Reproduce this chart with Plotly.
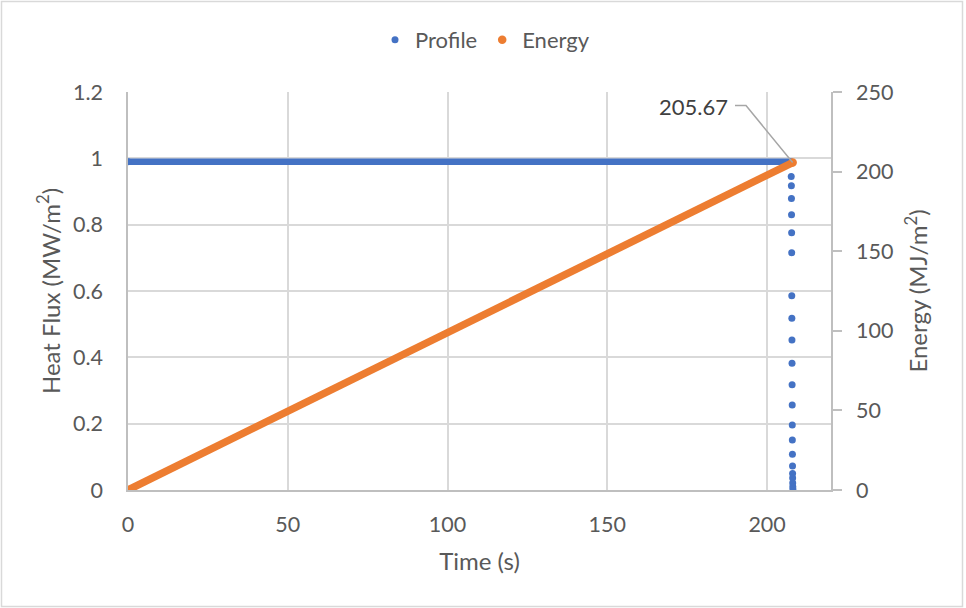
import plotly.graph_objects as go

# ---- data ----
profile_time = [0, 207.5, 207.55, 207.6, 207.62, 207.65, 207.68, 207.7, 207.72, 207.75,
                207.78, 207.8, 207.83, 207.86, 207.88, 207.9, 207.93, 207.96, 207.98,
                208.0, 208.02, 208.05, 208.08]
profile_flux = [0.99, 0.99, 0.945, 0.917, 0.879, 0.830, 0.776, 0.715, 0.586, 0.518,
                0.452, 0.382, 0.317, 0.256, 0.196, 0.151, 0.108, 0.072, 0.050,
                0.036, 0.021, 0.010, 0.003]
energy_time = [0, 208.0]
energy_value = [0, 205.67]
x_ticks = [0, 50, 100, 150, 200]
y1_ticks = [0, 0.2, 0.4, 0.6, 0.8, 1, 1.2]
y2_ticks = [0, 50, 100, 150, 200, 250]

BLUE = "#4472C4"
ORANGE = "#ED7D31"
TXT = "#595959"
GRID = "#D9D9D9"
AX = "#BFBFBF"
FONT = "Lato, 'Open Sans', sans-serif"

W, H = 966, 608
ML, MR, MT, MB = 128, 135, 92, 118
PW, PH = W - ML - MR, H - MT - MB
X_MAX, Y2_MAX = 220, 250


def px_to_x(px):
    return (px - ML) / PW * X_MAX


def py_to_y2(py):
    return (H - MB - py) / PH * Y2_MAX


fig = go.Figure()

# Profile plateau (dense dots drawn as a thick line)
fig.add_trace(go.Scatter(x=profile_time[:2], y=profile_flux[:2], mode="lines",
                         line=dict(color=BLUE, width=6.5), showlegend=False,
                         hoverinfo="skip", legendgroup="p"))
fig.add_trace(go.Scatter(x=profile_time, y=profile_flux, mode="markers", name="Profile",
                         marker=dict(color=BLUE, size=7), legendgroup="p"))

# Energy line
fig.add_trace(go.Scatter(x=energy_time, y=energy_value, mode="lines", yaxis="y2",
                         line=dict(color=ORANGE, width=7.5), showlegend=False,
                         hoverinfo="skip", legendgroup="e"))
fig.add_trace(go.Scatter(x=energy_time, y=energy_value, mode="markers", yaxis="y2",
                         name="Energy", marker=dict(color=ORANGE, size=8.5), legendgroup="e"))

# Data label with leader line
ex, ey = energy_time[-1], energy_value[-1]
fig.add_annotation(x=px_to_x(693), y=py_to_y2(106), xref="x", yref="y2", text=f"{ey:.2f}",
                   showarrow=False, xanchor="center", yanchor="middle",
                   font=dict(family=FONT, size=22, color="#404040"))
fig.add_shape(type="path", xref="x", yref="y2",
              path=f"M {px_to_x(735)},{py_to_y2(105.5)} L {px_to_x(746)},{py_to_y2(105.5)} L {ex},{ey}",
              line=dict(color="#A6A6A6", width=1.5))

tickfont = dict(family=FONT, size=21.5, color=TXT)
titlefont = dict(family=FONT, size=24, color=TXT)

fig.update_layout(
    width=W, height=H,
    margin=dict(l=ML, r=MR, t=MT, b=MB, autoexpand=False),
    paper_bgcolor="white", plot_bgcolor="white",
    font=dict(family=FONT, color=TXT),
    xaxis=dict(range=[0, X_MAX], tickvals=x_ticks, showgrid=True, gridcolor=GRID, gridwidth=1.5,
               showline=True, linecolor=AX, linewidth=1.5, zeroline=False,
               ticks="outside", ticklen=14, tickcolor="rgba(0,0,0,0)",
               tickfont=tickfont,
               title=dict(text="Time (s)", font=titlefont, standoff=18)),
    yaxis=dict(range=[0, 1.2], tickvals=y1_ticks, showgrid=True, gridcolor=GRID, gridwidth=1.5,
               showline=True, linecolor=AX, linewidth=1.5, zeroline=False,
               ticks="outside", ticklen=19, tickcolor="rgba(0,0,0,0)",
               tickfont=tickfont,
               title=dict(text="Heat Flux (MW/m<sup>2</sup>)", font=titlefont, standoff=6)),
    yaxis2=dict(range=[0, Y2_MAX], tickvals=y2_ticks, overlaying="y", side="right",
                showgrid=False, showline=True, linecolor=AX, linewidth=1.5, zeroline=False,
                ticks="outside", ticklen=9, tickcolor=AX, tickwidth=1.5,
                ticklabelstandoff=10,
                tickfont=tickfont,
                title=dict(text="Energy (MJ/m<sup>2</sup>)", font=titlefont, standoff=18)),
    legend=dict(orientation="h", x=(485 - ML) / PW, xanchor="center",
                y=(H - MB - 40) / PH, yanchor="middle",
                font=dict(family=FONT, size=22, color=TXT),
                bgcolor="rgba(0,0,0,0)"),
    showlegend=True,
)

# chart-area border
fig.add_shape(type="rect", xref="paper", yref="paper",
              x0=(1.5 - ML) / PW, x1=(962.5 - ML) / PW,
              y0=(H - MB - 606.5) / PH, y1=(H - MB - 1.5) / PH,
              line=dict(color="#D9D9D9", width=1.5), fillcolor="rgba(0,0,0,0)", layer="below")

fig.write_html("out.html", config={"displayModeBar": False},
               post_script="document.body.style.margin='0px';")
